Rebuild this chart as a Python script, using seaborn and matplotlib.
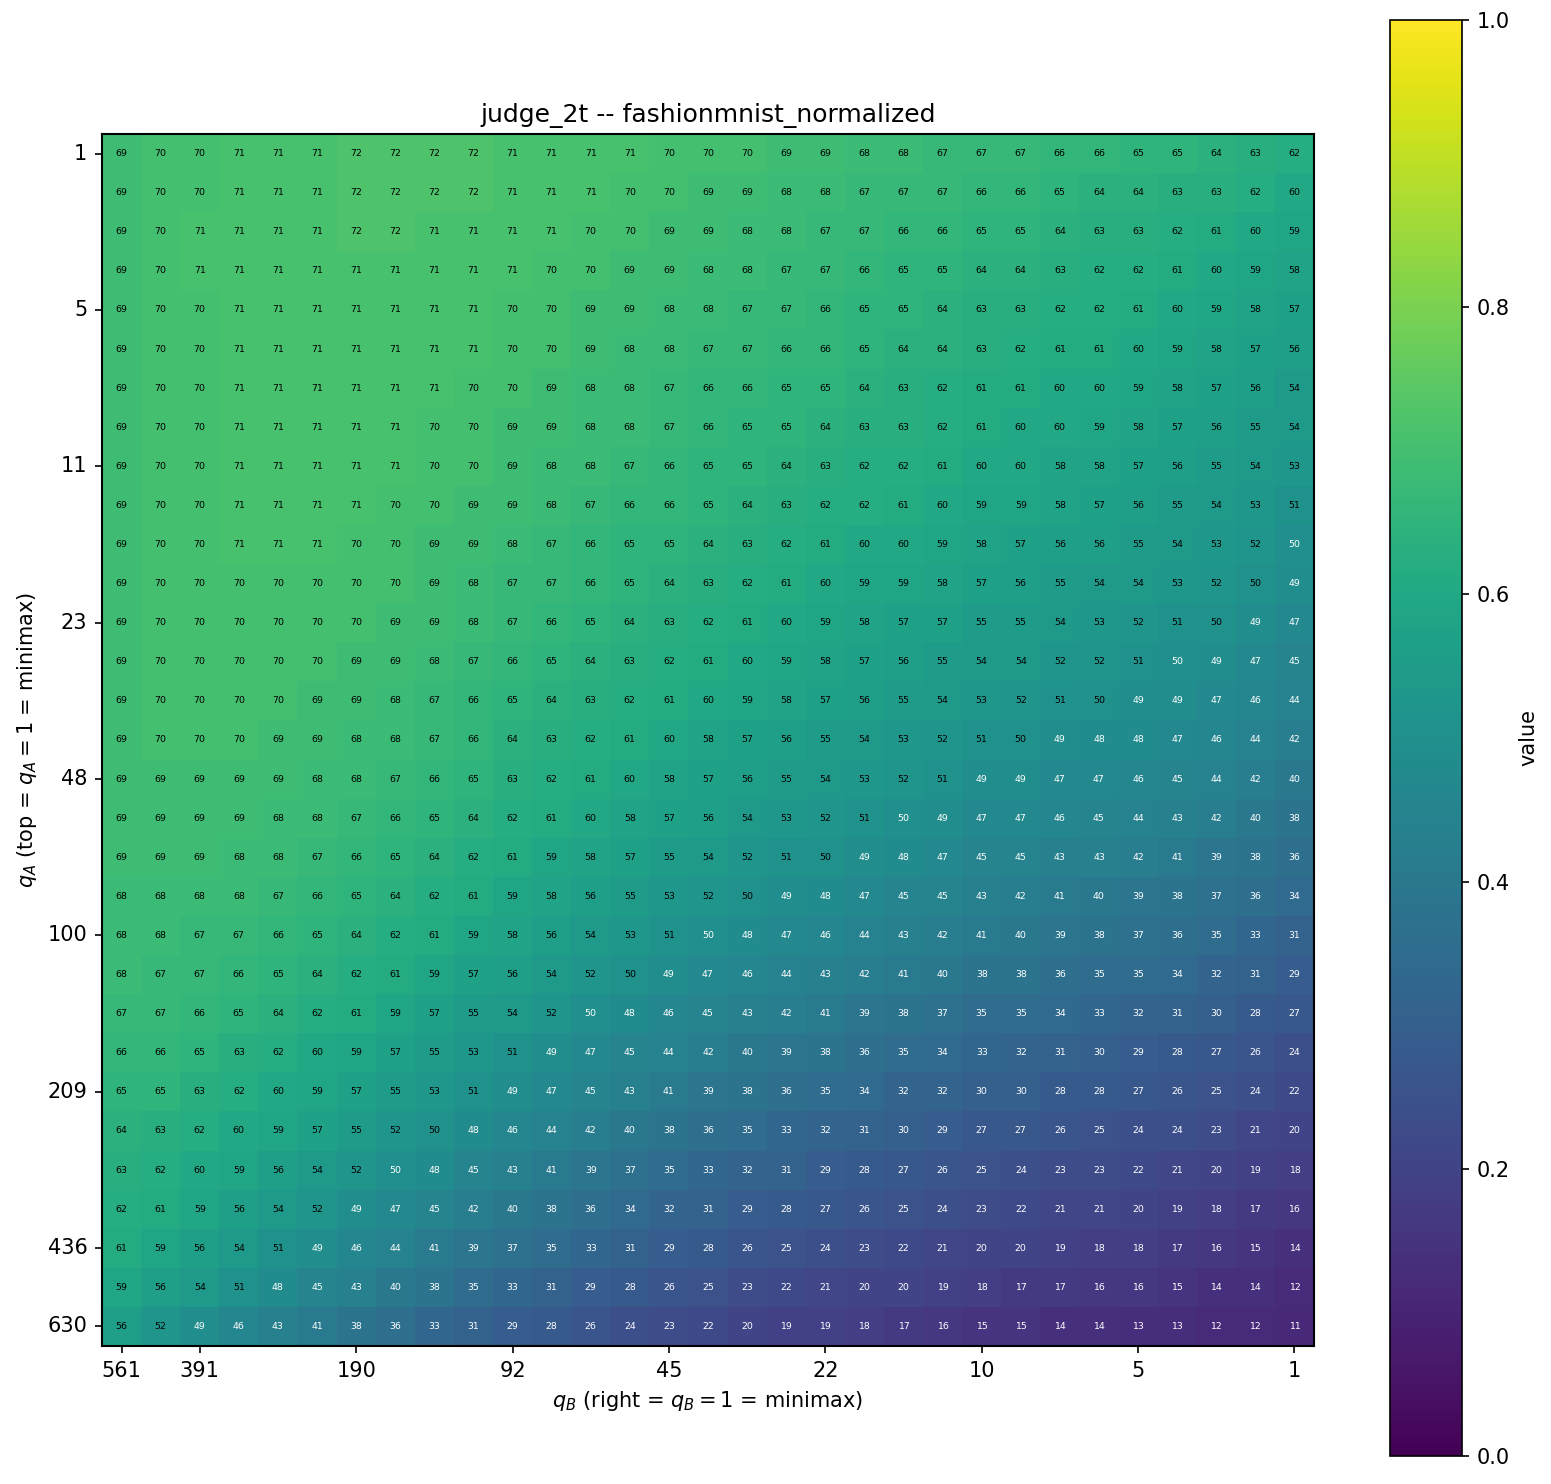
import matplotlib

matplotlib.use("Agg")
import matplotlib.pyplot as plt
import numpy as np
import seaborn as sns

# =============================================================================
# Data (cell values in percent; rows = q_A, cols = q_B)
# 49.6 marks cells shown as "50" but drawn with white text (just below 0.5)
# =============================================================================

score_rows = [
    [69, 70, 70, 71, 71, 71, 72, 72, 72, 72, 71, 71, 71, 71, 70, 70, 70, 69, 69, 68, 68, 67, 67, 67, 66, 66, 65, 65, 64, 63, 62],
    [69, 70, 70, 71, 71, 71, 72, 72, 72, 72, 71, 71, 71, 70, 70, 69, 69, 68, 68, 67, 67, 67, 66, 66, 65, 64, 64, 63, 63, 62, 60],
    [69, 70, 71, 71, 71, 71, 72, 72, 71, 71, 71, 71, 70, 70, 69, 69, 68, 68, 67, 67, 66, 66, 65, 65, 64, 63, 63, 62, 61, 60, 59],
    [69, 70, 71, 71, 71, 71, 71, 71, 71, 71, 71, 70, 70, 69, 69, 68, 68, 67, 67, 66, 65, 65, 64, 64, 63, 62, 62, 61, 60, 59, 58],
    [69, 70, 70, 71, 71, 71, 71, 71, 71, 71, 70, 70, 69, 69, 68, 68, 67, 67, 66, 65, 65, 64, 63, 63, 62, 62, 61, 60, 59, 58, 57],
    [69, 70, 70, 71, 71, 71, 71, 71, 71, 71, 70, 70, 69, 68, 68, 67, 67, 66, 66, 65, 64, 64, 63, 62, 61, 61, 60, 59, 58, 57, 56],
    [69, 70, 70, 71, 71, 71, 71, 71, 71, 70, 70, 69, 68, 68, 67, 66, 66, 65, 65, 64, 63, 62, 61, 61, 60, 60, 59, 58, 57, 56, 54],
    [69, 70, 70, 71, 71, 71, 71, 71, 70, 70, 69, 69, 68, 68, 67, 66, 65, 65, 64, 63, 63, 62, 61, 60, 60, 59, 58, 57, 56, 55, 54],
    [69, 70, 70, 71, 71, 71, 71, 71, 70, 70, 69, 68, 68, 67, 66, 65, 65, 64, 63, 62, 62, 61, 60, 60, 58, 58, 57, 56, 55, 54, 53],
    [69, 70, 70, 71, 71, 71, 71, 70, 70, 69, 69, 68, 67, 66, 66, 65, 64, 63, 62, 62, 61, 60, 59, 59, 58, 57, 56, 55, 54, 53, 51],
    [69, 70, 70, 71, 71, 71, 70, 70, 69, 69, 68, 67, 66, 65, 65, 64, 63, 62, 61, 60, 60, 59, 58, 57, 56, 56, 55, 54, 53, 52, 49.6],
    [69, 70, 70, 70, 70, 70, 70, 70, 69, 68, 67, 67, 66, 65, 64, 63, 62, 61, 60, 59, 59, 58, 57, 56, 55, 54, 54, 53, 52, 50, 49],
    [69, 70, 70, 70, 70, 70, 70, 69, 69, 68, 67, 66, 65, 64, 63, 62, 61, 60, 59, 58, 57, 57, 55, 55, 54, 53, 52, 51, 50, 49, 47],
    [69, 70, 70, 70, 70, 70, 69, 69, 68, 67, 66, 65, 64, 63, 62, 61, 60, 59, 58, 57, 56, 55, 54, 54, 52, 52, 51, 49.6, 49, 47, 45],
    [69, 70, 70, 70, 70, 69, 69, 68, 67, 66, 65, 64, 63, 62, 61, 60, 59, 58, 57, 56, 55, 54, 53, 52, 51, 50, 49, 49, 47, 46, 44],
    [69, 70, 70, 70, 69, 69, 68, 68, 67, 66, 64, 63, 62, 61, 60, 58, 57, 56, 55, 54, 53, 52, 51, 50, 49, 48, 48, 47, 46, 44, 42],
    [69, 69, 69, 69, 69, 68, 68, 67, 66, 65, 63, 62, 61, 60, 58, 57, 56, 55, 54, 53, 52, 51, 49, 49, 47, 47, 46, 45, 44, 42, 40],
    [69, 69, 69, 69, 68, 68, 67, 66, 65, 64, 62, 61, 60, 58, 57, 56, 54, 53, 52, 51, 49.6, 49, 47, 47, 46, 45, 44, 43, 42, 40, 38],
    [69, 69, 69, 68, 68, 67, 66, 65, 64, 62, 61, 59, 58, 57, 55, 54, 52, 51, 50, 49, 48, 47, 45, 45, 43, 43, 42, 41, 39, 38, 36],
    [68, 68, 68, 68, 67, 66, 65, 64, 62, 61, 59, 58, 56, 55, 53, 52, 50, 49, 48, 47, 45, 45, 43, 42, 41, 40, 39, 38, 37, 36, 34],
    [68, 68, 67, 67, 66, 65, 64, 62, 61, 59, 58, 56, 54, 53, 51, 49.6, 48, 47, 46, 44, 43, 42, 41, 40, 39, 38, 37, 36, 35, 33, 31],
    [68, 67, 67, 66, 65, 64, 62, 61, 59, 57, 56, 54, 52, 50, 49, 47, 46, 44, 43, 42, 41, 40, 38, 38, 36, 35, 35, 34, 32, 31, 29],
    [67, 67, 66, 65, 64, 62, 61, 59, 57, 55, 54, 52, 49.6, 48, 46, 45, 43, 42, 41, 39, 38, 37, 35, 35, 34, 33, 32, 31, 30, 28, 27],
    [66, 66, 65, 63, 62, 60, 59, 57, 55, 53, 51, 49, 47, 45, 44, 42, 40, 39, 38, 36, 35, 34, 33, 32, 31, 30, 29, 28, 27, 26, 24],
    [65, 65, 63, 62, 60, 59, 57, 55, 53, 51, 49, 47, 45, 43, 41, 39, 38, 36, 35, 34, 32, 32, 30, 30, 28, 28, 27, 26, 25, 24, 22],
    [64, 63, 62, 60, 59, 57, 55, 52, 50, 48, 46, 44, 42, 40, 38, 36, 35, 33, 32, 31, 30, 29, 27, 27, 26, 25, 24, 24, 23, 21, 20],
    [63, 62, 60, 59, 56, 54, 52, 49.6, 48, 45, 43, 41, 39, 37, 35, 33, 32, 31, 29, 28, 27, 26, 25, 24, 23, 23, 22, 21, 20, 19, 18],
    [62, 61, 59, 56, 54, 52, 49, 47, 45, 42, 40, 38, 36, 34, 32, 31, 29, 28, 27, 26, 25, 24, 23, 22, 21, 21, 20, 19, 18, 17, 16],
    [61, 59, 56, 54, 51, 49, 46, 44, 41, 39, 37, 35, 33, 31, 29, 28, 26, 25, 24, 23, 22, 21, 20, 20, 19, 18, 18, 17, 16, 15, 14],
    [59, 56, 54, 51, 48, 45, 43, 40, 38, 35, 33, 31, 29, 28, 26, 25, 23, 22, 21, 20, 20, 19, 18, 17, 17, 16, 16, 15, 14, 14, 12],
    [56, 52, 49, 46, 43, 41, 38, 36, 33, 31, 29, 28, 26, 24, 23, 22, 20, 19, 19, 18, 17, 16, 15, 15, 14, 14, 13, 13, 12, 12, 11],
]

# tick labels shown on the axes (q values at the labelled rows / columns)
q_a_tick_labels = ["1", "5", "11", "23", "48", "100", "209", "436", "630"]
q_a_tick_rows = [0, 4, 8, 12, 16, 20, 24, 28, 30]
q_b_tick_labels = ["561", "391", "190", "92", "45", "22", "10", "5", "1"]
q_b_tick_cols = [0, 2, 6, 10, 14, 18, 22, 26, 30]

title = "judge_2t -- fashionmnist_normalized"

# =============================================================================
# Plot
# =============================================================================

values = np.array(score_rows, dtype=float) / 100.0
n_rows, n_cols = values.shape

dpi = 150
fig = plt.figure(figsize=(1552 / dpi, 1484 / dpi), dpi=dpi)
ax = fig.add_axes([102 / 1552, 137 / 1484, 1212 / 1552, 1214 / 1484])
cax = fig.add_axes([1390 / 1552, 28 / 1484, 72 / 1552, 1436 / 1484])

sns.heatmap(
    values,
    cmap="viridis",
    vmin=0.0,
    vmax=1.0,
    square=True,
    annot=False,
    linewidths=0,
    ax=ax,
    cbar_ax=cax,
    cbar_kws={"label": "value"},
)

# Annotations (black on bright cells, white below 0.5)
for i in range(n_rows):
    for j in range(n_cols):
        v = values[i, j]
        ax.text(
            j + 0.5,
            i + 0.5,
            f"{int(round(v * 100))}",
            ha="center",
            va="center",
            fontsize=4.5,
            color="white" if v < 0.5 else "black",
        )

# Frame and ticks like a plain imshow
for spine in ax.spines.values():
    spine.set_visible(True)
    spine.set_linewidth(1.0)
    spine.set_color("black")

ax.set_xticks([c + 0.5 for c in q_b_tick_cols], labels=q_b_tick_labels, rotation=0)
ax.set_yticks([r + 0.5 for r in q_a_tick_rows], labels=q_a_tick_labels, rotation=0)
ax.tick_params(axis="both", length=3.5, width=0.8, labelsize=10)

ax.set_xlabel("$q_B$ (right = $q_B = 1$ = minimax)", fontsize=10)
ax.set_ylabel("$q_A$ (top = $q_A = 1$ = minimax)", fontsize=10)
ax.set_title(title, fontsize=12)

cb = ax.collections[0].colorbar
cb.outline.set_visible(True)
cb.outline.set_linewidth(0.8)
cb.outline.set_edgecolor("black")
cb.set_ticks([0.0, 0.2, 0.4, 0.6, 0.8, 1.0])
cb.ax.tick_params(labelsize=10, length=3.5, width=0.8)
cb.set_label("value", fontsize=10)

fig.savefig("out.png", dpi=dpi)
